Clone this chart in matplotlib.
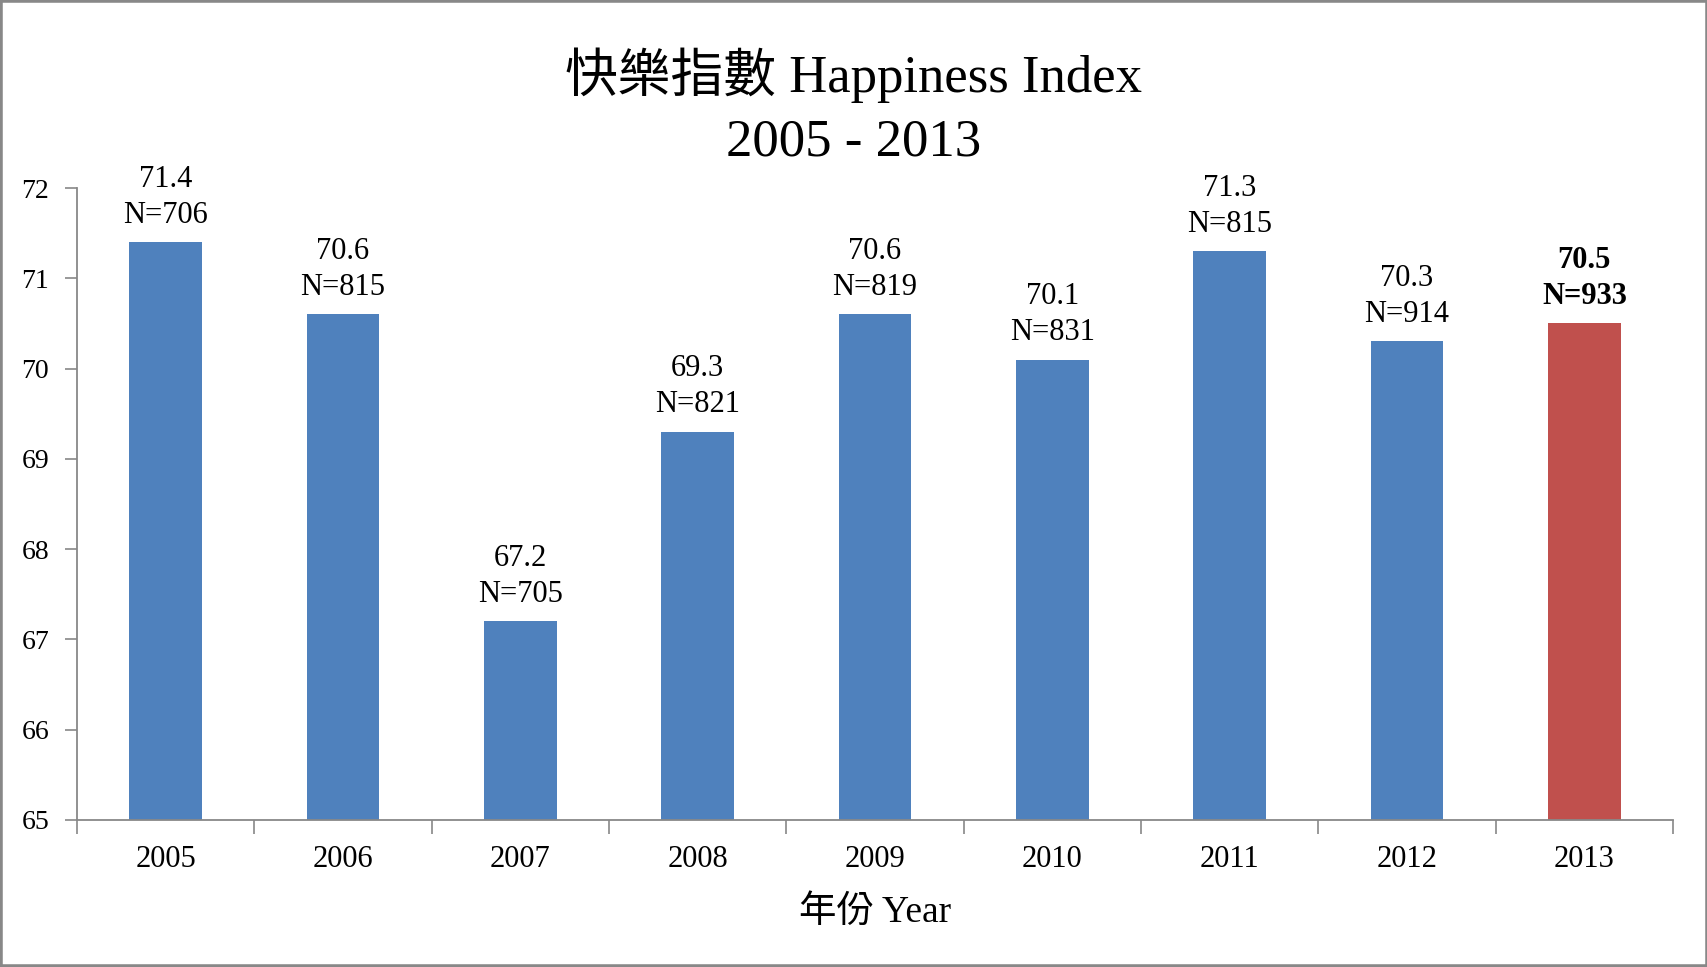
import matplotlib
matplotlib.use("Agg")
import matplotlib.pyplot as plt
from matplotlib.patches import Rectangle

years = ["2005", "2006", "2007", "2008", "2009", "2010", "2011", "2012", "2013"]
values = [71.4, 70.6, 67.2, 69.3, 70.6, 70.1, 71.3, 70.3, 70.5]
counts = [706, 815, 705, 821, 819, 831, 815, 914, 933]
yticks = [65, 66, 67, 68, 69, 70, 71, 72]
title_lines = ["快樂指數 Happiness Index", "2005 - 2013"]
xlabel = "年份 Year"

FAM = ["Liberation Serif", "Noto Sans CJK TC", "DejaVu Sans"]
plt.rcParams["font.family"] = FAM

W, H = 1708, 967
fig = plt.figure(figsize=(W / 100, H / 100), dpi=100)
ax = fig.add_axes([77 / W, (H - 820) / H, (1673 - 77) / W, (820 - 188) / H])

colors = ["#4F81BD"] * (len(years) - 1) + ["#C0504D"]
x = list(range(len(years)))
bars = ax.bar(x, [v - 65 for v in values], bottom=65, width=0.41, color=colors, zorder=2)

ax.set_xlim(-0.5, len(years) - 0.5)
ax.set_ylim(65, 72)
ax.set_yticks(yticks)
ax.set_yticklabels([str(t) for t in yticks], fontsize=20)

ax.set_xticks([i - 0.5 for i in range(len(years) + 1)])
ax.set_xticklabels([])
ax.set_xticks(x, minor=True)
ax.set_xticklabels(years, minor=True, fontsize=22)
ax.tick_params(axis="x", which="minor", length=0, pad=18)
ax.tick_params(axis="x", which="major", length=10, width=1.2, color="#888888", direction="out")
ax.tick_params(axis="y", length=9, width=1.2, color="#888888", direction="out", pad=11)

for s in ["top", "right"]:
    ax.spines[s].set_visible(False)
for s in ["left", "bottom"]:
    ax.spines[s].set_color("#888888")
    ax.spines[s].set_linewidth(1.3)

for i, (v, n) in enumerate(zip(values, counts)):
    bold = "bold" if i == len(values) - 1 else "normal"
    ax.annotate(f"N={n}", (i, v), xytext=(0, 27), textcoords="offset pixels",
                ha="center", va="center", fontsize=22, fontweight=bold)
    ax.annotate(f"{v:.1f}", (i, v), xytext=(0, 63), textcoords="offset pixels",
                ha="center", va="center", fontsize=22, fontweight=bold)

fig.text(0.5, 1 - 75 / H, title_lines[0], ha="center", va="center", fontsize=38)
fig.text(0.5, 1 - 143 / H, title_lines[1], ha="center", va="center", fontsize=38)
fig.text(875 / W, 1 - 913 / H, xlabel, ha="center", va="center", fontsize=27)

fig.patches.append(Rectangle((0, 0), 1, 1, transform=fig.transFigure, fill=False,
                             edgecolor="#888888", linewidth=4, zorder=10))

fig.savefig("out.png", dpi=100)
